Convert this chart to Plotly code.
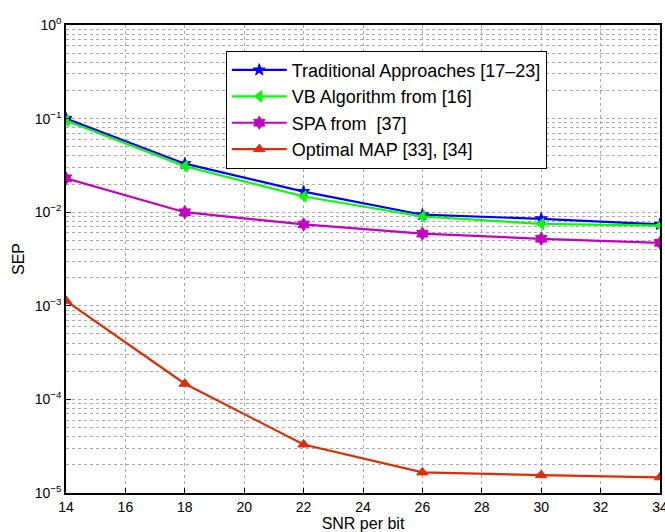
import plotly.graph_objects as go

snr = [14, 18, 22, 26, 30, 34]
trad = [0.100, 0.033, 0.0166, 0.0094, 0.0085, 0.0074]
vb = [0.095, 0.031, 0.0147, 0.0090, 0.0075, 0.0072]
spa = [0.023, 0.0100, 0.0074, 0.0059, 0.0052, 0.0047]
mapo = [1.13e-3, 1.47e-4, 3.3e-5, 1.66e-5, 1.55e-5, 1.47e-5]

names = ["Traditional Approaches [17\u201323]", "VB Algorithm from [16]",
         "SPA from  [37]", "Optimal MAP [33], [34]"]
colors = ["#0000ff", "#00ff00", "#c400c4", "#e02c00"]
symbols = ["star", "triangle-left", "hexagram", "triangle-up"]
sizes = [9, 10, 10, 10]

ytickvals = [1e-5, 1e-4, 1e-3, 1e-2, 1e-1, 1]
yticktext = ["10<sup>\u22125</sup>", "10<sup>\u22124</sup>", "10<sup>\u22123</sup>",
             "10<sup>\u22122</sup>", "10<sup>\u22121</sup>", "10<sup>0</sup>"]

fig = go.Figure()
for ys, n, c, s, sz in zip([trad, vb, spa, mapo], names, colors, symbols, sizes):
    fig.add_trace(go.Scatter(x=snr, y=ys, name=n, mode="lines+markers",
                             line=dict(color=c, width=2.2),
                             marker=dict(symbol=s, size=sz, color=c,
                                         line=dict(color=c, width=1))))

font = "Liberation Sans, Arial, Helvetica, sans-serif"
fig.update_layout(
    width=665, height=532,
    margin=dict(l=66, r=5, t=25, b=39),
    paper_bgcolor="white", plot_bgcolor="white",
    font=dict(family=font, size=13, color="black"),
    showlegend=True,
    legend=dict(x=0.269, y=0.945, xanchor="left", yanchor="top",
                bgcolor="white", bordercolor="black", borderwidth=1,
                font=dict(size=18, family=font), tracegroupgap=0,
                itemwidth=55),
    xaxis=dict(range=[14, 34], tickvals=[14, 16, 18, 20, 22, 24, 26, 28, 30, 32, 34],
               showgrid=True, gridcolor="#aaaaaa", griddash="dot", gridwidth=1,
               showline=True, linecolor="black", linewidth=1.5, mirror=True,
               ticks="inside", ticklen=5, tickcolor="black",
               ticklabeloverflow="allow", tickfont=dict(size=14),
               automargin=False,
               title=dict(text="SNR per bit", font=dict(size=16), standoff=2),
               zeroline=False),
    yaxis=dict(type="log", range=[-5, 0], tickvals=ytickvals, ticktext=yticktext,
               showgrid=True, gridcolor="#aaaaaa", griddash="dot", gridwidth=1,
               minor=dict(dtick="D1", showgrid=True, gridcolor="#aaaaaa",
                          griddash="dot", gridwidth=1, ticks=""),
               showline=True, linecolor="black", linewidth=1.5, mirror=True,
               ticks="inside", ticklen=5, tickcolor="black",
               tickfont=dict(size=14), ticklabeloverflow="allow",
               automargin=False,
               title=dict(text="SEP", font=dict(size=16), standoff=6),
               zeroline=False),
)

fig.write_html("out.html")
